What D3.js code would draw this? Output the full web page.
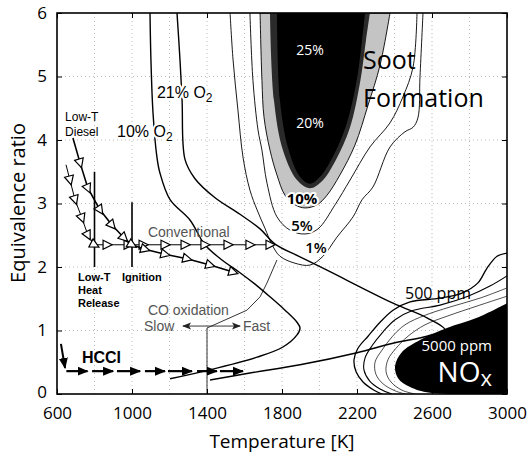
<!DOCTYPE html>
<html>
<head>
<meta charset="utf-8">
<script src="https://cdn.jsdelivr.net/npm/d3@7"></script>
<style>
  body { margin: 0; background: #fff; }
  .tick text { font-family: "Open Sans", sans-serif; font-size: 17px; fill: #000; }
  .ann { font-family: "Liberation Sans", Arial, sans-serif; }
  .halo { paint-order: stroke; stroke: #fff; stroke-width: 4px; stroke-linejoin: round; }
</style>
</head>
<body>
<div class="chart"></div>
<script>
// phi-T map: soot and NOx formation regions with combustion paths

// axis ticks
var tempTicks = [600, 1000, 1400, 1800, 2200, 2600, 3000];
var phiTicks = [0, 1, 2, 3, 4, 5, 6];
var gridTemps = [800, 1000, 1200, 1400, 1600, 1800, 2000, 2200, 2400, 2600, 2800];
var gridPhis = [1, 2, 3, 4, 5];

// adiabatic flame temperature curves [T, phi]
var o2Ten = [[1096, 6.0], [1101, 5.26], [1112, 4.43], [1133, 3.73], [1149, 3.48], [1203, 3.06], [1309, 2.74],
  [1389, 2.35], [1480, 2.11], [1576, 1.91], [1656, 1.73], [1736, 1.53], [1816, 1.32], [1880, 1.13],
  [1896, 1.04], [1880, 0.93], [1805, 0.74], [1667, 0.58], [1416, 0.38], [1203, 0.24]];
var o2TwentyOne = [[1240, 6.0], [1256, 5.26], [1267, 4.63], [1283, 3.69], [1336, 3.39], [1443, 3.09], [1576, 2.83],
  [1683, 2.60], [1763, 2.36], [1896, 2.16], [2040, 1.95], [2392, 1.43], [2573, 1.20], [2669, 1.01],
  [2573, 0.91], [2392, 0.80], [2200, 0.65], [1896, 0.46], [1629, 0.33], [1416, 0.22]];

// soot yield contours
var soot1 = [[1523, 6.0], [1539, 5.26], [1565, 4.47], [1592, 3.73], [1629, 3.21], [1667, 2.90], [1709, 2.61],
  [1747, 2.35], [1789, 2.17], [1869, 2.06], [1949, 2.03], [2019, 2.17], [2093, 2.47], [2179, 2.79],
  [2227, 3.06], [2285, 3.26], [2376, 3.89], [2456, 4.13], [2499, 4.20], [2525, 4.35], [2536, 5.0], [2552, 6.0]];
var soot5 = [[1629, 6.0], [1645, 4.94], [1672, 4.16], [1693, 3.84], [1720, 3.32], [1773, 2.79], [1843, 2.58],
  [1923, 2.52], [1992, 2.60], [2083, 2.98], [2163, 3.37], [2269, 3.89], [2376, 4.27], [2445, 4.68],
  [2499, 5.15], [2520, 6.0]];
var soot10 = [[1683, 6.0], [1693, 4.94], [1704, 4.36], [1736, 3.84], [1773, 3.45], [1816, 3.13], [1869, 2.98],
  [1923, 2.93], [1987, 2.98], [2040, 3.13], [2109, 3.45], [2189, 3.92], [2259, 4.55], [2323, 5.18], [2376, 6.0]];
var soot20 = [[1736, 6.0], [1757, 4.63], [1805, 3.84], [1880, 3.37], [1949, 3.24], [2013, 3.35], [2088, 3.69],
  [2163, 4.20], [2216, 4.90], [2248, 5.57], [2269, 6.0]];
var soot25 = [[1773, 6.0], [1789, 4.63], [1832, 3.88], [1896, 3.42], [1949, 3.31], [2003, 3.42], [2072, 3.74],
  [2141, 4.22], [2195, 4.88], [2227, 5.57], [2243, 6.0]];

// CO oxidation boundary
var coLine = [[1773, 2.11], [1720, 1.75], [1683, 1.53], [1613, 1.32], [1416, 1.06], [1400, 1.04], [1400, 0]];

// NOx contours
var nox500 = [[3000, 2.22], [2947, 2.17], [2893, 1.98], [2845, 1.75], [2760, 1.59], [2643, 1.51], [2483, 1.45],
  [2392, 1.32], [2323, 1.13], [2259, 0.91], [2205, 0.72], [2184, 0.54], [2195, 0.35], [2232, 0.19],
  [2291, 0.06], [2333, 0]];
var noxB = [[3000, 1.86], [2909, 1.70], [2792, 1.54], [2643, 1.40], [2493, 1.31], [2403, 1.17], [2339, 0.98],
  [2280, 0.76], [2243, 0.57], [2237, 0.38], [2269, 0.20], [2323, 0.08], [2387, 0]];
var noxC = [[3000, 1.67], [2856, 1.51], [2696, 1.37], [2563, 1.24], [2456, 1.09], [2387, 0.90], [2333, 0.69],
  [2296, 0.50], [2301, 0.31], [2339, 0.16], [2403, 0.05], [2456, 0]];
var noxD = [[3000, 1.54], [2845, 1.39], [2685, 1.23], [2563, 1.09], [2472, 0.91], [2408, 0.72], [2365, 0.54],
  [2355, 0.35], [2381, 0.19], [2440, 0.06], [2509, 0]];
var nox5000 = [[3000, 1.43], [2840, 1.20], [2680, 1.04], [2536, 0.85], [2440, 0.66], [2403, 0.44], [2419, 0.25],
  [2483, 0.11], [2589, 0.02], [3000, 0]];

// combustion paths
var dieselPath = [[685, 4.03], [723, 3.64], [765, 3.24], [829, 2.90], [893, 2.66], [957, 2.46], [1000, 2.35],
  [1069, 2.28], [1176, 2.20], [1293, 2.13], [1416, 2.03], [1539, 1.92]];
var conventionalPath = [[648, 3.61], [669, 3.37], [696, 3.06], [733, 2.77], [765, 2.50], [800, 2.35], [867, 2.35],
  [979, 2.35], [1059, 2.35], [1176, 2.35], [1283, 2.35], [1389, 2.35], [1512, 2.35], [1629, 2.35], [1736, 2.35]];
var hcciStart = [[621, 0.79], [643, 0.41]];
var hcciSteps = [[650, 763], [787, 899], [920, 1043], [1069, 1176], [1192, 1320], [1347, 1453], [1469, 1592]];
var hcciPhi = 0.36;
var heatRelease = [[800, 3.5], [800, 2.0]];
var ignition = [[1000, 3.02], [1000, 2.0]];
var coArrow = [[1272, 1.07], [1576, 1.07]];

var svgWidth = 529;
var svgHeight = 457;
var margin = { top: 13, right: 22, bottom: 63, left: 57 };
var width = svgWidth - margin.left - margin.right;
var height = svgHeight - margin.top - margin.bottom;

var svg = d3.select(".chart")
  .append("svg")
  .attr("width", svgWidth)
  .attr("height", svgHeight)
  .append("g")
  .attr("transform", "translate(" + margin.left + "," + margin.top + ")");

var x = d3.scaleLinear().domain([600, 3000]).range([0, width]);
var y = d3.scaleLinear().domain([0, 6]).range([height, 0]);

var defs = svg.append("defs");
defs.append("clipPath").attr("id", "plot")
  .append("rect").attr("width", width).attr("height", height);

// open triangle for the diesel paths
defs.append("marker")
  .attr("id", "tri")
  .attr("viewBox", "-6 -6 12 12")
  .attr("markerUnits", "userSpaceOnUse")
  .attr("markerWidth", 12).attr("markerHeight", 12)
  .attr("orient", "auto")
  .append("path")
  .attr("d", "M-4,-4.5L5,0L-4,4.5Z")
  .attr("fill", "#fff").attr("stroke", "#000").attr("stroke-width", 1.2);

// solid arrow head
defs.append("marker")
  .attr("id", "head")
  .attr("viewBox", "0 -5 11 10")
  .attr("refX", 10)
  .attr("markerUnits", "userSpaceOnUse")
  .attr("markerWidth", 11).attr("markerHeight", 10)
  .attr("orient", "auto")
  .append("path")
  .attr("d", "M0,-4.5L11,0L0,4.5Z")
  .attr("fill", "#000");

defs.append("marker")
  .attr("id", "smallhead")
  .attr("viewBox", "0 -4 9 8")
  .attr("refX", 8)
  .attr("markerUnits", "userSpaceOnUse")
  .attr("markerWidth", 9).attr("markerHeight", 8)
  .attr("orient", "auto-start-reverse")
  .append("path")
  .attr("d", "M0,-3.5L9,0L0,3.5L2,0Z")
  .attr("fill", "#222");

// dotted grid
svg.append("g").selectAll("line.gx").data(gridTemps).enter().append("line")
  .attr("x1", function(d) { return x(d); }).attr("x2", function(d) { return x(d); })
  .attr("y1", 0).attr("y2", height)
  .attr("stroke", "#aaa").attr("stroke-width", 0.8).attr("stroke-dasharray", "1,3");
svg.append("g").selectAll("line.gy").data(gridPhis).enter().append("line")
  .attr("x1", 0).attr("x2", width)
  .attr("y1", function(d) { return y(d); }).attr("y2", function(d) { return y(d); })
  .attr("stroke", "#aaa").attr("stroke-width", 0.8).attr("stroke-dasharray", "1,3");

var chart = svg.append("g").attr("clip-path", "url(#plot)");

var smooth = d3.line()
  .x(function(d) { return x(d[0]); })
  .y(function(d) { return y(d[1]); })
  .curve(d3.curveCatmullRom.alpha(0.5));
var straight = d3.line()
  .x(function(d) { return x(d[0]); })
  .y(function(d) { return y(d[1]); });

// soot regions
chart.append("path").attr("d", smooth(soot10) + "Z").attr("fill", "#c4c4c4")
  .attr("stroke", "#000").attr("stroke-width", 0.9);
chart.append("path").attr("d", smooth(soot20) + "Z").attr("fill", "#2a2a2a");
chart.append("path").attr("d", smooth(soot25) + "Z").attr("fill", "#000");
chart.append("path").attr("d", smooth(soot5)).attr("fill", "none").attr("stroke", "#000").attr("stroke-width", 0.9);
chart.append("path").attr("d", smooth(soot1)).attr("fill", "none").attr("stroke", "#000").attr("stroke-width", 0.9);
chart.append("path").attr("d", straight(coLine)).attr("fill", "none").attr("stroke", "#000").attr("stroke-width", 0.8);

// NOx regions
chart.append("path").attr("d", smooth(nox5000) + "Z").attr("fill", "#000");
[[nox500, 1.3], [noxB, 1.1], [noxC, 0.7], [noxD, 0.7]].forEach(function(c) {
  chart.append("path").attr("d", smooth(c[0])).attr("fill", "none")
    .attr("stroke", "#000").attr("stroke-width", c[1]);
});

// O2 curves
chart.append("path").attr("d", smooth(o2Ten)).attr("fill", "none").attr("stroke", "#000").attr("stroke-width", 1.4);
chart.append("path").attr("d", smooth(o2TwentyOne)).attr("fill", "none").attr("stroke", "#000").attr("stroke-width", 1.4);

// vertical markers for low-T heat release and ignition
[heatRelease, ignition].forEach(function(l) {
  chart.append("path").attr("d", straight(l)).attr("stroke", "#000").attr("stroke-width", 1.6);
});

// diesel paths with open triangles
chart.append("path").attr("d", straight(conventionalPath)).attr("fill", "none")
  .attr("stroke", "#000").attr("stroke-width", 1)
  .attr("marker-mid", "url(#tri)").attr("marker-end", "url(#tri)");
chart.append("path").attr("d", straight(dieselPath)).attr("fill", "none")
  .attr("stroke", "#000").attr("stroke-width", 1.6)
  .attr("marker-mid", "url(#tri)").attr("marker-end", "url(#tri)");

// HCCI arrows
chart.append("path").attr("d", straight(hcciStart)).attr("stroke", "#000").attr("stroke-width", 2)
  .attr("marker-end", "url(#head)");
chart.selectAll("line.hcci").data(hcciSteps).enter().append("line")
  .attr("x1", function(d) { return x(d[0]); })
  .attr("x2", function(d) { return x(d[1]); })
  .attr("y1", y(hcciPhi)).attr("y2", y(hcciPhi))
  .attr("stroke", "#000").attr("stroke-width", 2.2)
  .attr("marker-end", "url(#head)");

// CO oxidation slow/fast arrow
chart.append("path").attr("d", straight(coArrow)).attr("stroke", "#222").attr("stroke-width", 0.9)
  .attr("marker-start", "url(#smallhead)").attr("marker-end", "url(#smallhead)");

// text labels
var labels = [
  { t: "Low-T", T: 643, p: 4.36, size: 12, fill: "#000", weight: 400 },
  { t: "Diesel", T: 643, p: 4.13, size: 12, fill: "#000", weight: 400 },
  { t: "Conventional", T: 1085, p: 2.55, size: 14, fill: "#555", weight: 400 },
  { t: "Low-T", T: 712, p: 1.84, size: 11, fill: "#000", weight: 700 },
  { t: "Heat", T: 712, p: 1.64, size: 11, fill: "#000", weight: 700 },
  { t: "Release", T: 712, p: 1.44, size: 11, fill: "#000", weight: 700 },
  { t: "Ignition", T: 947, p: 1.84, size: 11, fill: "#000", weight: 700 },
  { t: "CO oxidation", T: 1085, p: 1.32, size: 14, fill: "#555", weight: 400 },
  { t: "Slow", T: 1064, p: 1.07, size: 14, fill: "#555", weight: 400 },
  { t: "Fast", T: 1592, p: 1.07, size: 14, fill: "#555", weight: 400 },
  { t: "HCCI", T: 733, p: 0.58, size: 16, fill: "#000", weight: 700 }
];
svg.selectAll("text.ann").data(labels).enter().append("text")
  .attr("class", "ann")
  .attr("x", function(d) { return x(d.T); })
  .attr("y", function(d) { return y(d.p); })
  .attr("dy", "0.36em")
  .attr("font-size", function(d) { return d.size + "px"; })
  .attr("font-weight", function(d) { return d.weight; })
  .attr("fill", function(d) { return d.fill; })
  .text(function(d) { return d.t; });

// O2 labels with subscript
var o2Labels = [{ t: "21% O", T: 1133, p: 4.76 }, { t: "10% O", T: 920, p: 4.14 }];
o2Labels.forEach(function(d) {
  var txt = svg.append("text").attr("class", "ann halo")
    .attr("x", x(d.T)).attr("y", y(d.p)).attr("dy", "0.36em")
    .attr("font-size", "16px");
  txt.append("tspan").text(d.t);
  txt.append("tspan").attr("dy", "4").attr("font-size", "12px").text("2");
});

// soot labels
var sootLabels = [
  { t: "25%", T: 1949, p: 5.42, size: 14, fill: "#fff", weight: 400, halo: false },
  { t: "20%", T: 1949, p: 4.27, size: 14, fill: "#fff", weight: 400, halo: false },
  { t: "10%", T: 1907, p: 3.08, size: 15, fill: "#000", weight: 700, halo: true },
  { t: "5%", T: 1907, p: 2.65, size: 15, fill: "#000", weight: 600, halo: true },
  { t: "1%", T: 1981, p: 2.30, size: 15, fill: "#000", weight: 600, halo: true }
];
svg.selectAll("text.soot").data(sootLabels).enter().append("text")
  .attr("class", function(d) { return d.halo ? "halo" : null; })
  .attr("x", function(d) { return x(d.T); })
  .attr("y", function(d) { return y(d.p); })
  .attr("dy", "0.36em")
  .attr("text-anchor", "middle")
  .attr("font-family", "Open Sans, sans-serif")
  .attr("font-size", function(d) { return d.size + "px"; })
  .attr("font-weight", function(d) { return d.weight; })
  .attr("fill", function(d) { return d.fill; })
  .text(function(d) { return d.t; });

svg.append("text").attr("x", x(2232)).attr("y", y(5.26)).attr("dy", "0.36em")
  .attr("font-family", "Open Sans, sans-serif").attr("font-size", "25px").attr("fill", "#000")
  .text("Soot");
svg.append("text").attr("x", x(2232)).attr("y", y(4.66)).attr("dy", "0.36em")
  .attr("font-family", "Open Sans, sans-serif").attr("font-size", "25px").attr("fill", "#000")
  .text("Formation");

// NOx labels
svg.append("text").attr("x", x(2456)).attr("y", y(1.59)).attr("dy", "0.36em")
  .attr("font-family", "Open Sans, sans-serif").attr("font-size", "16px").attr("fill", "#000")
  .text("500 ppm");
svg.append("text").attr("x", x(2920)).attr("y", y(0.76)).attr("dy", "0.36em")
  .attr("text-anchor", "end")
  .attr("font-family", "Open Sans, sans-serif").attr("font-size", "15px").attr("fill", "#fff")
  .text("5000 ppm");
var noxText = svg.append("text").attr("x", x(2920)).attr("y", y(0.35)).attr("dy", "0.36em")
  .attr("text-anchor", "end")
  .attr("font-family", "Open Sans, sans-serif").attr("font-size", "28px").attr("fill", "#fff");
noxText.append("tspan").text("NO");
noxText.append("tspan").attr("dy", "4").attr("font-size", "22px").text("x");

// axes, ticks pointing inward on all sides
var plain = function(d) { return String(d); };
svg.append("g")
  .attr("class", "x axis")
  .attr("transform", "translate(0," + height + ")")
  .call(d3.axisBottom(x).tickValues(tempTicks).tickSizeInner(-5).tickSizeOuter(0).tickPadding(13).tickFormat(plain))
  .call(function(g) { g.select(".domain").remove(); });
svg.append("g")
  .call(d3.axisTop(x).tickValues(tempTicks).tickSizeInner(-5).tickSizeOuter(0).tickFormat(""))
  .call(function(g) { g.select(".domain").remove(); });
svg.append("g")
  .attr("class", "y axis")
  .call(d3.axisLeft(y).tickValues(phiTicks).tickSizeInner(-5).tickSizeOuter(0).tickPadding(10).tickFormat(plain))
  .call(function(g) { g.select(".domain").remove(); });
svg.append("g")
  .attr("transform", "translate(" + width + ",0)")
  .call(d3.axisRight(y).tickValues(phiTicks).tickSizeInner(-5).tickSizeOuter(0).tickFormat(""))
  .call(function(g) { g.select(".domain").remove(); });

// lift the "0" label a little so it clears the first temperature label
svg.select(".y.axis").selectAll(".tick").filter(function(d) { return d === 0; })
  .select("text").attr("dy", "0.2em");

svg.selectAll(".tick line").attr("stroke", "#000").attr("stroke-width", 1);

svg.append("rect")
  .attr("width", width).attr("height", height)
  .attr("fill", "none").attr("stroke", "#000").attr("stroke-width", 1.6);

// axis titles
svg.append("text")
  .attr("x", width / 2)
  .attr("y", height + 54)
  .attr("text-anchor", "middle")
  .attr("font-family", "Open Sans, sans-serif")
  .attr("font-size", "19px")
  .text("Temperature [K]");
svg.append("text")
  .attr("transform", "rotate(-90)")
  .attr("x", -(203 - margin.top))
  .attr("y", -39)
  .attr("dy", "0.36em")
  .attr("text-anchor", "middle")
  .attr("font-family", "Open Sans, sans-serif")
  .attr("font-size", "20px")
  .text("Equivalence ratio");
</script>
</body>
</html>
